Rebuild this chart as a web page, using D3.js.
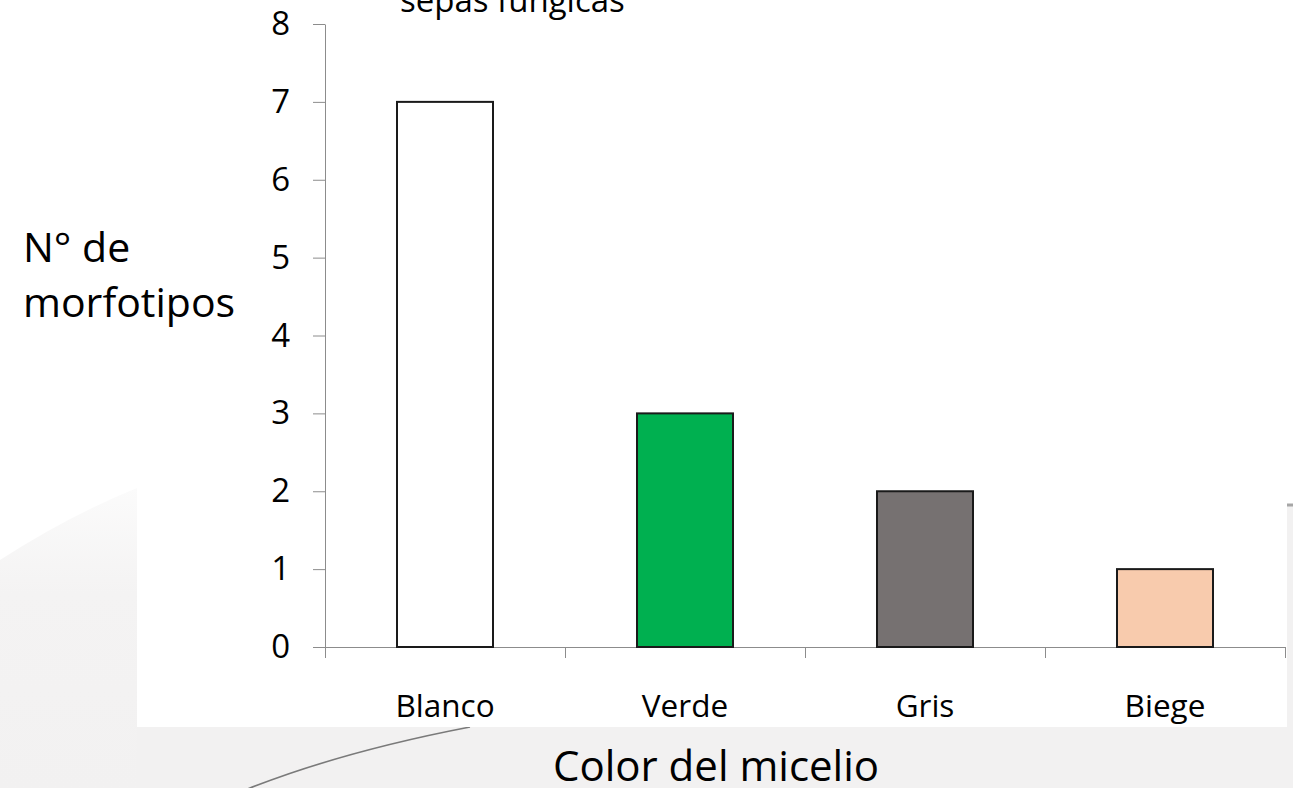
<!DOCTYPE html>
<html>
<head>
<meta charset="utf-8">
<script src="https://cdn.jsdelivr.net/npm/d3@7/dist/d3.min.js"></script>
<style>
  html, body { margin: 0; padding: 0; background: #ffffff; }
  svg { display: block; }
  text { font-family: "Open Sans", "Noto Sans", sans-serif; fill: #000; }
</style>
</head>
<body>
<svg id="chart" width="1293" height="788"></svg>
<script>
// Mycelium colour categories and the number of morphotypes in each
const categories = ["Blanco", "Verde", "Gris", "Biege"];
const counts = [7, 3, 2, 1];
const barColors = ["#ffffff", "#00b050", "#767171", "#f8cbad"];
const yTicks = [0, 1, 2, 3, 4, 5, 6, 7, 8];

const titleTail = "sepas fúngicas";
const yTitleLines = ["N° de", "morfotipos"];
const xTitle = "Color del micelio";

const W = 1293, H = 788;
const plot = { left: 325, right: 1285, top: 24, bottom: 647 };

const svg = d3.select("#chart");

// --- slide backdrop: pale grey band and swoosh behind the chart box
const bg = svg.append("g");
const fade = svg.append("defs").append("linearGradient")
  .attr("id", "fade").attr("x1", 0).attr("y1", 0).attr("x2", 0).attr("y2", 1);
fade.append("stop").attr("offset", 0).attr("stop-color", "#fbfbfb");
fade.append("stop").attr("offset", 0.35).attr("stop-color", "#f4f3f3");
fade.append("stop").attr("offset", 1).attr("stop-color", "#f2f1f1");

bg.append("rect").attr("width", W).attr("height", H).attr("fill", "#ffffff");
bg.append("path")
  .attr("d", "M0,560 Q70,515 137,488 L137,788 L0,788 Z")
  .attr("fill", "url(#fade)");
bg.append("path")
  .attr("d", "M137,727 L1287,727 L1287,505 L1293,505 L1293,788 L137,788 Z")
  .attr("fill", "#f2f1f1");
bg.append("path")
  .attr("d", "M245,790 Q340,752 470,727")
  .attr("fill", "none").attr("stroke", "#7a7a7a").attr("stroke-width", 1.6);
bg.append("line")
  .attr("x1", 1287).attr("x2", W).attr("y1", 505).attr("y2", 505)
  .attr("stroke", "#a6a6a6").attr("stroke-width", 3);

// white chart box
svg.append("rect")
  .attr("x", 137).attr("y", 0).attr("width", 1287 - 137).attr("height", 727)
  .attr("fill", "#ffffff");

// --- scales
const x = d3.scaleBand()
  .domain(categories)
  .range([plot.left, plot.right])
  .paddingInner(0.6)
  .paddingOuter(0.3);

const y = d3.scaleLinear()
  .domain([0, 8])
  .range([plot.bottom, plot.top]);

// category boundaries for the x-axis tick marks
const xEdge = d3.scaleLinear()
  .domain([0, categories.length])
  .range([plot.left, plot.right]);

const axisColor = "#8c8c8c";

// --- y axis
const yAxis = svg.append("g")
  .attr("transform", `translate(${plot.left},0)`)
  .call(d3.axisLeft(y).tickValues(yTicks).tickSize(12).tickSizeOuter(0).tickPadding(23));
yAxis.select(".domain").attr("stroke", axisColor);
yAxis.selectAll(".tick line").attr("stroke", axisColor);
yAxis.selectAll(".tick text")
  .style("font-family", "'Open Sans', sans-serif")
  .style("font-size", "33px")
  .attr("fill", "#000");

// --- x axis: boundary ticks below the baseline
const xTicksAxis = svg.append("g")
  .attr("transform", `translate(0,${plot.bottom})`)
  .call(d3.axisBottom(xEdge).tickValues(d3.range(categories.length + 1)).tickSize(11).tickSizeOuter(0).tickFormat(""));
xTicksAxis.select(".domain").attr("stroke", axisColor);
xTicksAxis.selectAll(".tick line").attr("stroke", axisColor);

// category labels
const xLabels = svg.append("g")
  .attr("transform", `translate(0,${plot.bottom})`)
  .call(d3.axisBottom(x).tickSize(0).tickPadding(48));
xLabels.select(".domain").remove();
xLabels.selectAll(".tick text")
  .style("font-family", "'Open Sans', sans-serif")
  .style("font-size", "31.5px")
  .attr("fill", "#000");

// --- bars
svg.append("g")
  .selectAll("rect")
  .data(categories)
  .join("rect")
  .attr("x", d => x(d))
  .attr("y", (d, i) => y(counts[i]))
  .attr("width", x.bandwidth())
  .attr("height", (d, i) => y(0) - y(counts[i]))
  .attr("fill", (d, i) => barColors[i])
  .attr("stroke", "#1a1a1a")
  .attr("stroke-width", 2);

// --- titles
svg.append("text")
  .attr("x", 400).attr("y", 12)
  .style("font-size", "33px")
  .text(titleTail);

svg.append("g")
  .selectAll("text")
  .data(yTitleLines)
  .join("text")
  .attr("x", 23)
  .attr("y", (d, i) => 262 + i * 55)
  .style("font-size", "41px")
  .text(d => d);

svg.append("text")
  .attr("x", 716).attr("y", 781)
  .attr("text-anchor", "middle")
  .style("font-size", "42px")
  .text(xTitle);
</script>
</body>
</html>
